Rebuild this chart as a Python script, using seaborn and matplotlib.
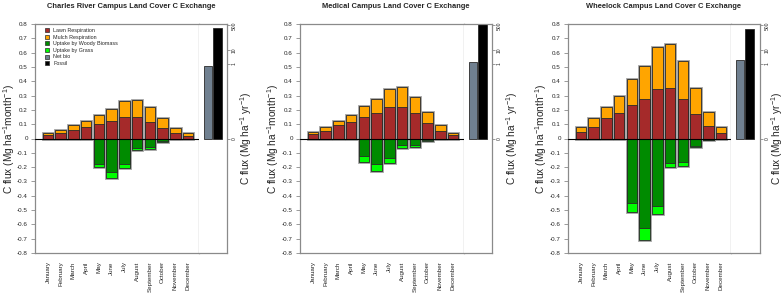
import numpy as np
import pandas as pd
import matplotlib
matplotlib.use("Agg")
import matplotlib.pyplot as plt
import seaborn as sns
from matplotlib.patches import Patch

# ---------------- data ----------------
months = ["January", "February", "March", "April", "May", "June", "July",
          "August", "September", "October", "November", "December"]
titles = ["Charles River Campus Land Cover C Exchange",
          "Medical Campus Land Cover C Exchange",
          "Wheelock Campus Land Cover C Exchange"]
legend_labels = ["Lawn Respiration", "Mulch Respiration", "Uptake by Woody Biomass",
                 "Uptake by Grass", "Net bio", "Fossil"]
annual_names = ["Net bio", "Fossil"]

# Charles River (Mg C ha-1 month-1)
cr_lawn = [0.023, 0.035, 0.058, 0.079, 0.098, 0.119, 0.147, 0.147, 0.114, 0.070, 0.035, 0.016]
cr_mulch = [0.012, 0.021, 0.033, 0.042, 0.065, 0.086, 0.112, 0.119, 0.103, 0.070, 0.040, 0.019]
cr_woody = [0, 0, 0, 0, -0.175, -0.237, -0.181, -0.063, -0.058, -0.020, -0.003, 0]
cr_grass = [0, 0, 0, 0, -0.025, -0.042, -0.028, -0.014, -0.014, -0.003, 0, 0]
cr_annual = [0.79, 316.0]   # Mg C ha-1 yr-1

# Medical Campus
med_lawn = [0.028, 0.054, 0.091, 0.112, 0.149, 0.177, 0.219, 0.221, 0.175, 0.105, 0.054, 0.021]
med_mulch = [0.016, 0.023, 0.033, 0.049, 0.075, 0.098, 0.126, 0.136, 0.112, 0.077, 0.042, 0.019]
med_woody = [0, 0, 0, 0, -0.123, -0.179, -0.135, -0.047, -0.047, -0.012, -0.002, 0]
med_grass = [0, 0, 0, 0, -0.044, -0.051, -0.039, -0.020, -0.013, -0.004, 0, 0]
med_annual = [1.5, 900.0]

# Wheelock Campus
wh_lawn = [0.047, 0.082, 0.140, 0.179, 0.231, 0.277, 0.343, 0.350, 0.273, 0.168, 0.084, 0.035]
wh_mulch = [0.035, 0.058, 0.081, 0.115, 0.182, 0.233, 0.296, 0.312, 0.268, 0.182, 0.098, 0.044]
wh_woody = [0, 0, 0, 0, -0.449, -0.623, -0.470, -0.174, -0.167, -0.055, -0.008, 0]
wh_grass = [0, 0, 0, 0, -0.063, -0.086, -0.058, -0.026, -0.023, -0.006, 0, 0]
wh_annual = [1.9, 263.0]

annual_ticks = [0, 1, 10, 500]

# ---------------- style ----------------
sns.set_style("white")
plt.rcParams["font.family"] = ["Liberation Sans", "DejaVu Sans"]
plt.rcParams["mathtext.default"] = "regular"
plt.rcParams["axes.unicode_minus"] = False

C_LAWN = "#A52A2A"
C_MULCH = "#FFA500"
C_WOODY = "#008B00"
C_GRASS = "#00FF00"
C_NET = "#708090"
C_FOSSIL = "#000000"
C_EDGE = "#2a2a2a"
C_SHADOW = "#a0a0a0"
C_FRAME = "#8a8a8a"

W, H = 784, 295
fig = plt.figure(figsize=(W / 100, H / 100), dpi=100)
TOP, BOT = 24, 253


def px_axes(x0, x1):
    return fig.add_axes([x0 / W, 1 - BOT / H, (x1 - x0) / W, (BOT - TOP) / H])


# annual axis scale: 0 -> 0, then log-like (0.52 + 0.1*log10(v))
T = 0.5
FT = 0.52 + 0.1 * np.log10(T)


def fwd(v):
    v = np.asarray(v, dtype=float)
    lg = 0.52 + 0.1 * np.log10(np.maximum(v, 1e-12))
    return np.where(v >= T, lg, v * FT / T)


def inv(y):
    y = np.asarray(y, dtype=float)
    ex = 10 ** ((np.minimum(y, 5) - 0.52) / 0.1)
    return np.where(y >= FT, ex, y * T / FT)


panels = [
    (cr_lawn, cr_mulch, cr_woody, cr_grass, cr_annual, (35, 199, 227), 9, 246),
    (med_lawn, med_mulch, med_woody, med_grass, med_annual, (300, 464, 492), 273, 512),
    (wh_lawn, wh_mulch, wh_woody, wh_grass, wh_annual, (568, 731, 760), 541, 777),
]

unit = 12.73
for k, (lawn, mulch, woody, grass, annual, (L, D, R), ylab_x, rlab_x) in enumerate(panels):
    ax = px_axes(L, D)
    ax2 = px_axes(D, R)

    lawn = np.array(lawn)
    mulch = np.array(mulch)
    woody = np.array(woody)
    grass = np.array(grass)
    pos_df = pd.DataFrame({"month": months, "lawn": lawn, "total": lawn + mulch})
    neg_df = pd.DataFrame({"month": months, "woody": woody, "total": woody + grass})
    neg_df = neg_df[neg_df["total"] != 0]

    common = dict(order=months, saturation=1, width=0.833, errorbar=None, ax=ax)
    # shadows
    sns.barplot(data=pos_df, x="month", y="total", color=C_MULCH, edgecolor=C_SHADOW,
                linewidth=2.0, **common)
    sns.barplot(data=neg_df, x="month", y="total", color=C_GRASS, edgecolor=C_SHADOW,
                linewidth=2.0, **common)
    # stacks
    sns.barplot(data=pos_df, x="month", y="total", color=C_MULCH, edgecolor=C_EDGE,
                linewidth=0.6, **common)
    sns.barplot(data=pos_df, x="month", y="lawn", color=C_LAWN, edgecolor=C_EDGE,
                linewidth=0.6, **common)
    sns.barplot(data=neg_df, x="month", y="total", color=C_GRASS, edgecolor=C_EDGE,
                linewidth=0.6, **common)
    sns.barplot(data=neg_df, x="month", y="woody", color=C_WOODY, edgecolor=C_EDGE,
                linewidth=0.6, **common)

    ax.axhline(0, color="black", lw=0.8, zorder=5)
    left = -13 / unit
    ax.set_xlim(left, left + (D - L) / unit)
    ax.set_ylim(-0.8, 0.8)
    yt = np.round(np.arange(-8, 9) / 10, 1)
    ax.set_yticks(yt)
    ax.set_yticklabels(["0" if v == 0 else f"{v:.1f}" for v in yt], fontsize=4.5)
    ax.set_xticks(range(12))
    ax.set_xticklabels(months, rotation=90, fontsize=4.5, va="top", ha="center")
    ax.tick_params(axis="x", length=0, pad=6)
    ax.tick_params(axis="y", length=3.0, width=0.6, color=C_FRAME, pad=2.2, left=True)
    ax.set_xlabel("")
    ax.set_ylabel(r"C flux (Mg ha$^{-1}$month$^{-1}$)", fontsize=7.3)
    ax.yaxis.set_label_coords((ylab_x - L) / (D - L), 0.5)
    ax.yaxis.label.set_va("center")
    for s in ["left", "top", "bottom"]:
        ax.spines[s].set_color(C_FRAME)
        ax.spines[s].set_linewidth(0.9)
    ax.spines["right"].set_color("black")
    ax.spines["right"].set_linewidth(0.8)

    # annual part
    sns.barplot(x=annual_names, y=annual, hue=annual_names, palette=[C_NET, C_FOSSIL],
                order=annual_names, hue_order=annual_names, saturation=1, width=0.9,
                errorbar=None, legend=False, edgecolor=C_EDGE, linewidth=0.6, ax=ax2)
    ax2.set_yscale("function", functions=(fwd, inv))
    ax2.set_ylim(float(inv(-0.8)), float(inv(0.8)))
    ax2.set_xlim(-0.95, -0.95 + (R - D) / 9.5)
    ax2.set_xticks([])
    ax2.set_xlabel("")
    ax2.yaxis.tick_right()
    ax2.yaxis.set_label_position("right")
    ax2.set_yticks(annual_ticks)
    ax2.yaxis.set_minor_locator(matplotlib.ticker.NullLocator())
    ax2.set_yticklabels([str(t) for t in annual_ticks], fontsize=3.6)
    for lab in ax2.get_yticklabels():
        lab.set_rotation(90)
        lab.set_va("center")
        lab.set_ha("left")
    ax2.tick_params(axis="y", length=2.2, width=0.6, color=C_FRAME, pad=1.0, right=True)
    ax2.set_ylabel(r"C flux (Mg ha$^{-1}$ yr$^{-1}$)", fontsize=7.3, rotation=90)
    ax2.yaxis.set_label_coords((rlab_x - D) / (R - D), 0.5)
    ax2.yaxis.label.set_va("center")
    for s in ["right", "top", "bottom"]:
        ax2.spines[s].set_color(C_FRAME)
        ax2.spines[s].set_linewidth(0.9)
    ax2.spines["left"].set_visible(False)

    fig.text((L + R) / 2 / W, 1 - 6 / H, titles[k], ha="center", va="center",
             fontsize=5.4, fontweight="bold")

    if k == 0:
        colors = [C_LAWN, C_MULCH, C_WOODY, C_GRASS, C_NET, C_FOSSIL]
        handles = [Patch(facecolor=c, edgecolor=C_EDGE, linewidth=0.5) for c in colors]
        ax.legend(handles, legend_labels, loc="upper left", frameon=False,
                  bbox_to_anchor=(9.5 / (D - L), 1 - 4.0 / (BOT - TOP)), borderaxespad=0,
                  borderpad=0, fontsize=3.9, handlelength=0.75, handleheight=0.75,
                  handletextpad=0.9, labelspacing=0.3)

fig.savefig("out.png", dpi=100)
